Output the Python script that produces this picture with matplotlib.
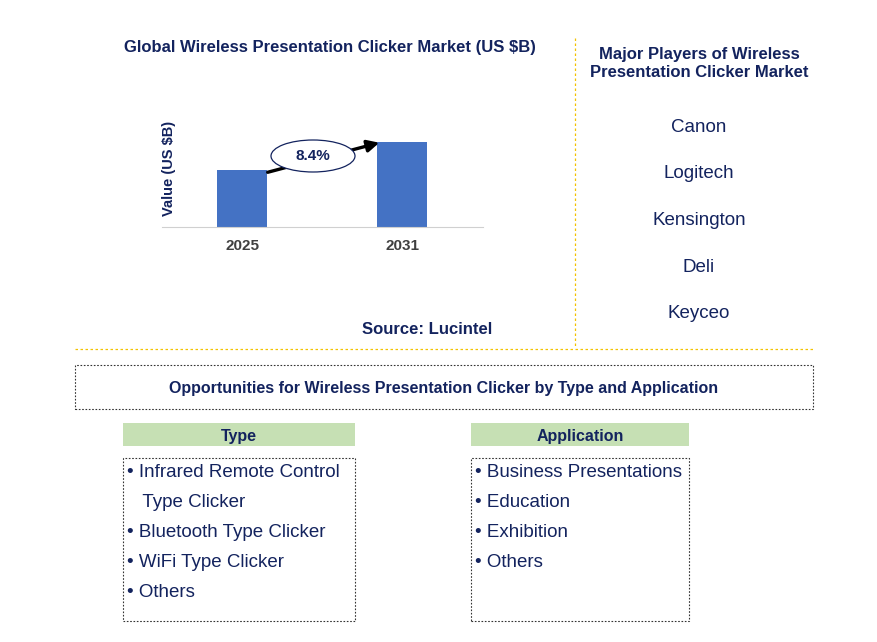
import matplotlib
matplotlib.use("Agg")
import matplotlib.pyplot as plt
from matplotlib.patches import Ellipse, Rectangle, FancyArrowPatch
plt.rcParams["font.family"] = "Liberation Sans"

years = ["2025", "2031"]
values = [0.57, 0.85]
cagr = "8.4%"
players = ["Canon", "Logitech", "Kensington", "Deli", "Keyceo"]
types = ["• Infrared Remote Control", "   Type Clicker", "• Bluetooth Type Clicker", "• WiFi Type Clicker", "• Others"]
apps = ["• Business Presentations", "• Education", "• Exhibition", "• Others"]

W, H = 878, 642
fig = plt.figure(figsize=(W/100, H/100), dpi=100)
navy = "#13235E"
def fx(x): return x / W
def fy(y): return 1 - (y + 1.5) / H   # text
def fb(y): return 1 - y / H           # shapes

ax = fig.add_axes([fx(162), fb(227), fx(483) - fx(162), (227 - 110) / H])
ax.bar(range(len(years)), values, width=0.3125, color="#4472C4")
ax.set_xlim(-0.5, 1.506)
ax.set_ylim(0, 1.17)
ax.set_yticks([])
ax.set_xticks(range(len(years)))
ax.set_xticklabels(years, fontsize=11, fontweight="bold", color="#404040")
ax.tick_params(axis="x", length=0, pad=9)
for s in ["top", "right", "left"]:
    ax.spines[s].set_visible(False)
ax.spines["bottom"].set_color("#D0D0D0")
ax.set_ylabel("Value (US $B)", fontsize=10.5, fontweight="bold", color=navy)
ax.yaxis.set_label_coords(0.045, 0.5)
ax.patch.set_alpha(0)

fig.add_artist(FancyArrowPatch((fx(265), fb(173)), (fx(382), fb(142)), transform=fig.transFigure,
                               arrowstyle="-|>,head_length=7,head_width=3.5", lw=2.4, color="black", mutation_scale=1))
fig.add_artist(Ellipse((fx(313), fb(156)), 84 / W, 32 / H, transform=fig.transFigure,
                       facecolor="white", edgecolor=navy, lw=0.9))
fig.text(fx(313), fy(155), cagr, ha="center", va="center", fontsize=11, fontweight="bold", color=navy)

fig.text(fx(330), fy(46), "Global Wireless Presentation Clicker Market (US $B)", ha="center", va="center",
         fontsize=12, fontweight="bold", color=navy)
fig.text(fx(427), fy(328), "Source: Lucintel", ha="center", va="center", fontsize=12, fontweight="bold", color=navy)

fig.add_artist(plt.Line2D([fx(575), fx(575)], [fb(38), fb(348)], transform=fig.transFigure,
                          color="#F2C200", lw=0.9, ls=(0, (2, 2))))
fig.add_artist(plt.Line2D([fx(75), fx(813)], [fb(349), fb(349)], transform=fig.transFigure,
                          color="#F2C200", lw=0.9, ls=(0, (2, 2))))

fig.text(fx(699), fy(62), "Major Players of Wireless\nPresentation Clicker Market", ha="center", va="center",
         fontsize=12, fontweight="bold", color=navy, linespacing=1.25)
for i, p in enumerate(players):
    fig.text(fx(699), fy(126 + i * 46.5), p, ha="center", va="center", fontsize=13.5, color=navy)

fig.add_artist(Rectangle((fx(75), fb(409)), 738 / W, 44 / H, transform=fig.transFigure,
                         facecolor="white", edgecolor="#333333", lw=0.8, ls=(0, (1.5, 1.5))))
fig.text(fx(444), fy(387), "Opportunities for Wireless Presentation Clicker by Type and Application",
         ha="center", va="center", fontsize=11.5, fontweight="bold", color=navy)

green = "#C6E0B4"
for (x0, x1, title, items) in [(123, 355, "Type", types), (471, 689, "Application", apps)]:
    fig.add_artist(Rectangle((fx(x0), fb(446)), (x1 - x0) / W, 23 / H, transform=fig.transFigure,
                             facecolor=green, edgecolor="none"))
    fig.text(fx((x0 + x1) / 2), fy(434.5), title, ha="center", va="center", fontsize=11.5,
             fontweight="bold", color=navy)
    fig.add_artist(Rectangle((fx(x0), fb(621)), (x1 - x0) / W, 163 / H,
                             transform=fig.transFigure, facecolor="none", edgecolor="#333333",
                             lw=0.8, ls=(0, (1.5, 1.5))))
    for i, t in enumerate(items):
        fig.text(fx(x0 + 4), fy(471 + i * 30), t, ha="left", va="center", fontsize=13.5, color=navy)

fig.savefig("out.png", dpi=100)
